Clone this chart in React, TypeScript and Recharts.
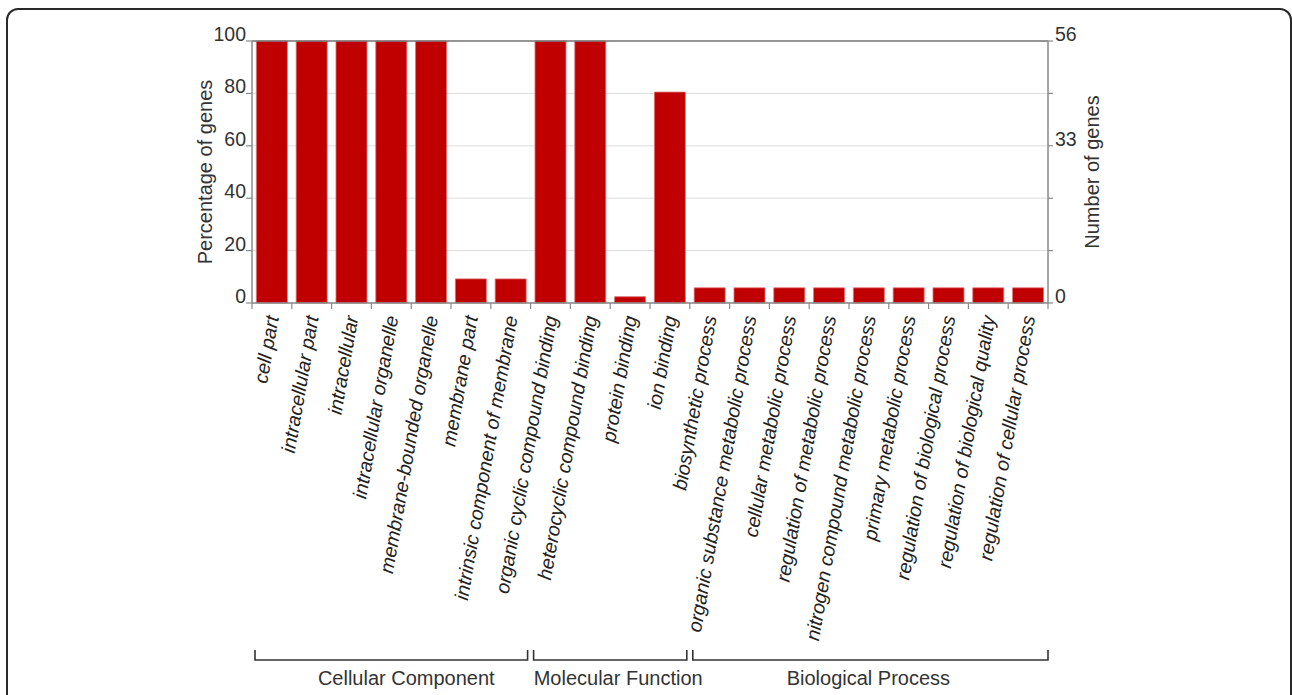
import React from 'react';
import {
  ComposedChart,
  Bar,
  Line,
  XAxis,
  YAxis,
  CartesianGrid,
  ReferenceLine,
} from 'recharts';

// GO term categories (x axis)
const categories: string[] = [
  'cell part',
  'intracellular part',
  'intracellular',
  'intracellular organelle',
  'membrane-bounded organelle',
  'membrane part',
  'intrinsic component of membrane',
  'organic cyclic compound binding',
  'heterocyclic compound binding',
  'protein binding',
  'ion binding',
  'biosynthetic process',
  'organic substance metabolic process',
  'cellular metabolic process',
  'regulation of metabolic process',
  'nitrogen compound metabolic process',
  'primary metabolic process',
  'regulation of biological process',
  'regulation of biological quality',
  'regulation of cellular process',
];

// Percentage of genes per term
const percentages: number[] = [
  100, 100, 100, 100, 100, 9.2, 9.2, 100, 100, 2.4, 80.5,
  5.8, 5.8, 5.8, 5.8, 5.8, 5.8, 5.8, 5.8, 5.8,
];

// Left axis ticks (percent) and right axis (number of genes)
const percentTicks: number[] = [0, 20, 40, 60, 80, 100];
const geneMax = 56;
const geneTicks: number[] = [0, 11.2, 22.4, 33.6, 44.8, 56];
const geneTickLabels: string[] = ['0', '', '', '33', '', '56'];

// Ontology groups spanning consecutive categories
const groupNames: string[] = ['Cellular Component', 'Molecular Function', 'Biological Process'];
const groupSizes: number[] = [7, 4, 9];

const data = categories.map((name, i) => ({ name, pct: percentages[i] }));

const FONT = '"Liberation Sans", Arial, Helvetica, sans-serif';
const TEXT = '#333';
const AXIS = '#8a8a8a';

const PLOT_LEFT = 252;
const PLOT_RIGHT = 1048;
const PLOT_TOP = 41;
const PLOT_BOTTOM = 303;
const BAND = (PLOT_RIGHT - PLOT_LEFT) / categories.length;
const GROUP_LABEL_SHIFT = [15, 8, -2];

const LeftTick = (props: any) => {
  const { x, y, payload } = props;
  return (
    <text x={x} y={y} textAnchor="end" fontSize={19.5} fill={TEXT} fontFamily={FONT}>
      {payload.value}
    </text>
  );
};

const RightTick = (props: any) => {
  const { x, y, index } = props;
  return (
    <text x={x} y={y} textAnchor="start" fontSize={19.5} fill={TEXT} fontFamily={FONT}>
      {geneTickLabels[index] ?? ''}
    </text>
  );
};

const CategoryTick = (props: any) => {
  const { x, y, payload, index } = props;
  const left = x - BAND / 2;
  const right = x + BAND / 2;
  const ax = x + 7;
  const ay = y + 4;
  return (
    <g>
      <line x1={left} y1={y - 10} x2={left} y2={y - 4} stroke={AXIS} strokeWidth={1.2} />
      {index === categories.length - 1 && (
        <line x1={right} y1={y - 10} x2={right} y2={y - 4} stroke={AXIS} strokeWidth={1.2} />
      )}
      <text
        x={ax}
        y={ay}
        textAnchor="end"
        fontSize={19.5}
        fontStyle="italic"
        fill="#222"
        fontFamily={FONT}
        transform={`rotate(-80, ${ax}, ${ay})`}
      >
        {payload.value}
      </text>
    </g>
  );
};

const Overlay = () => {
  let start = 0;
  const items = groupNames.map((name, g) => {
    const x1 = PLOT_LEFT + start * BAND + 3;
    const x2 = PLOT_LEFT + (start + groupSizes[g]) * BAND - (g === groupNames.length - 1 ? 0 : 3);
    start += groupSizes[g];
    const by = 660;
    return (
      <g key={name}>
        <path
          d={`M${x1},${by - 10} L${x1},${by} L${x2},${by} L${x2},${by - 10}`}
          fill="none"
          stroke="#333"
          strokeWidth={1.6}
        />
        <text
          x={(x1 + x2) / 2 + GROUP_LABEL_SHIFT[g]}
          y={685}
          textAnchor="middle"
          fontSize={20}
          fill={TEXT}
          fontFamily={FONT}
        >
          {name}
        </text>
      </g>
    );
  });
  const midY = (PLOT_TOP + PLOT_BOTTOM) / 2;
  return (
    <g>
      {items}
      <text
        x={212}
        y={midY}
        textAnchor="middle"
        fontSize={20}
        fill={TEXT}
        fontFamily={FONT}
        transform={`rotate(-90, 212, ${midY})`}
      >
        Percentage of genes
      </text>
      <text
        x={1099}
        y={midY}
        textAnchor="middle"
        fontSize={20}
        fill={TEXT}
        fontFamily={FONT}
        transform={`rotate(-90, 1099, ${midY})`}
      >
        Number of genes
      </text>
    </g>
  );
};

export default function App() {
  return (
    <div
      style={{
        position: 'absolute',
        left: 0,
        top: 0,
        width: 1292,
        height: 695,
        overflow: 'hidden',
        background: '#fff',
      }}
    >
      <div
        style={{
          position: 'absolute',
          left: 6,
          top: 8,
          width: 1282,
          height: 720,
          border: '2px solid #2a2a2a',
          borderRadius: 12,
        }}
      />
      <ComposedChart
        width={1292}
        height={695}
        data={data}
        margin={{ top: PLOT_TOP, right: 0, bottom: 0, left: 0 }}
        barCategoryGap="11%"
        style={{ position: 'absolute', left: 0, top: 0 }}
      >
        <CartesianGrid horizontal vertical={false} stroke="#dcdcdc" strokeWidth={1} yAxisId="left" />
        <XAxis
          dataKey="name"
          interval={0}
          height={695 - PLOT_BOTTOM}
          tick={<CategoryTick />}
          tickLine={false}
          axisLine={{ stroke: AXIS, strokeWidth: 1.5 }}
          tickSize={8}
        />
        <YAxis
          yAxisId="left"
          width={PLOT_LEFT}
          domain={[0, 100]}
          ticks={percentTicks}
          tick={<LeftTick />}
          tickSize={6}
          tickMargin={0}
          tickLine={{ stroke: AXIS, strokeWidth: 1.2 }}
          axisLine={{ stroke: AXIS, strokeWidth: 1.5 }}
        />
        <YAxis
          yAxisId="right"
          orientation="right"
          width={1292 - PLOT_RIGHT}
          domain={[0, geneMax]}
          allowDataOverflow
          ticks={geneTicks}
          tick={<RightTick />}
          tickSize={5}
          tickMargin={2}
          tickLine={{ stroke: AXIS, strokeWidth: 1.2 }}
          axisLine={{ stroke: AXIS, strokeWidth: 1.5 }}
        />
        <Bar
          yAxisId="left"
          dataKey="pct"
          fill="#c00000"
          stroke="#e07070"
          strokeWidth={0.8}
          isAnimationActive={false}
        />
        {/* binds the gene-count axis; draws nothing */}
        <Line
          yAxisId="right"
          dataKey="pct"
          stroke="none"
          dot={false}
          activeDot={false}
          legendType="none"
          isAnimationActive={false}
        />
        <ReferenceLine yAxisId="left" y={100} stroke="#777" strokeWidth={1.6} />
      </ComposedChart>
      <svg
        width={1292}
        height={695}
        style={{ position: 'absolute', left: 0, top: 0, pointerEvents: 'none' }}
      >
        <Overlay />
      </svg>
    </div>
  );
}
